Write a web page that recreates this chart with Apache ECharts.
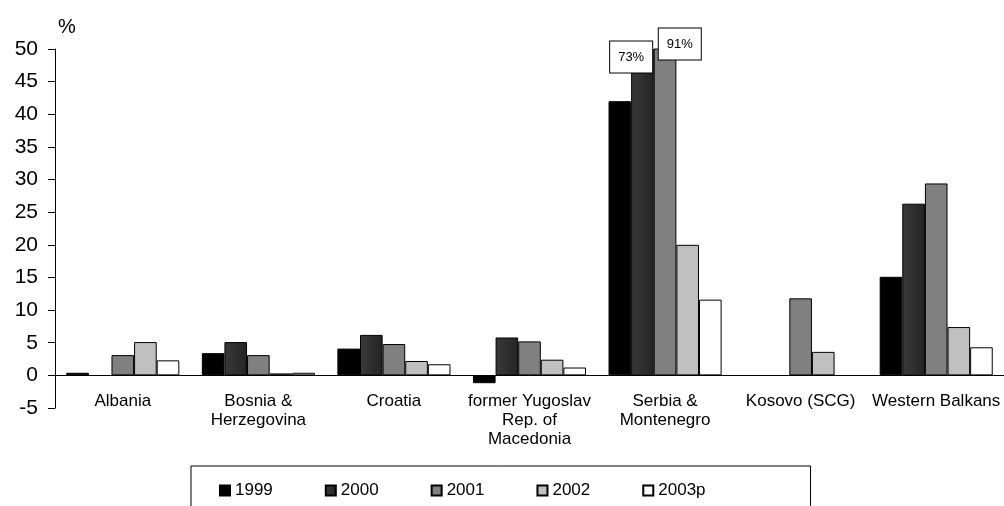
<!DOCTYPE html>
<html>
<head>
<meta charset="utf-8">
<script src="https://cdn.jsdelivr.net/npm/echarts@6/dist/echarts.min.js"></script>
<style>
  html, body { margin: 0; padding: 0; background: #fff; }
  #main { width: 1004px; height: 506px; }
</style>
</head>
<body>
<div id="main"></div>
<script>
// categories along the x axis
var countries = ['Albania', 'Bosnia &\nHerzegovina', 'Croatia', 'former Yugoslav\nRep. of\nMacedonia',
  'Serbia &\nMontenegro', 'Kosovo (SCG)', 'Western Balkans']
var years = ['1999', '2000', '2001', '2002', '2003p']

// values in % (Serbia 2000 and 2001 run off the top of the axis)
var v1999 = [0.4, 3.4, 4.1, -1.2, 42, null, 15.1]
var v2000 = [null, 5.1, 6.2, 5.8, 73, null, 26.3]
var v2001 = [3.1, 3.1, 4.8, 5.2, 91, 11.8, 29.4]
var v2002 = [5.1, 0.3, 2.2, 2.4, 20, 3.6, 7.4]
var v2003p = [2.3, 0.4, 1.7, 1.2, 11.6, null, 4.3]

var yTicks = { min: -5, max: 50, step: 5 }

var colors = [
  '#000000',
  { type: 'linear', x: 0, y: 0, x2: 1, y2: 0, colorStops: [{ offset: 0, color: '#3a3a3a' }, { offset: 1, color: '#242424' }] },
  '#808080',
  '#c0c0c0',
  '#ffffff'
]

var calloutBox = {
  show: true,
  formatter: '{c}%',
  color: '#000',
  fontSize: 13,
  fontFamily: 'Liberation Sans, Arial, sans-serif',
  backgroundColor: '#fff',
  borderColor: '#000',
  borderWidth: 1,
  padding: [9, 8, 9, 8],
  align: 'left',
  verticalAlign: 'top'
}

// mark the off-scale Serbia bars with their true value
function withCallout (arr, idx, pos) {
  return arr.map(function (v, i) {
    if (i !== idx) return v
    return { value: v, label: Object.assign({}, calloutBox, { position: pos }) }
  })
}

var seriesData = [
  v1999,
  withCallout(v2000, 4, [-21, -7]),
  withCallout(v2001, 4, [5, -20]),
  v2002,
  v2003p
]

var chart = echarts.init(document.getElementById('main'))
var font = 'Liberation Sans, Arial, sans-serif'

var option = {
  animation: false,
  textStyle: { fontFamily: font },
  grid: { left: 55, right: -2, top: 49, bottom: 98, containLabel: false },
  legend: {
    data: years,
    left: 191,
    top: 466,
    orient: 'horizontal',
    padding: [16, 105, 40, 28],
    borderColor: '#000',
    borderWidth: 1,
    itemWidth: 10,
    itemHeight: 10,
    itemGap: 52,
    icon: 'rect',
    textStyle: { fontSize: 17, color: '#000', fontFamily: font }
  },
  xAxis: {
    type: 'category',
    data: countries,
    axisLine: { onZero: true, lineStyle: { color: '#000', width: 1 } },
    axisTick: { show: false },
    axisLabel: { color: '#000', fontSize: 17, lineHeight: 19, margin: -16, interval: 0 },
    splitLine: { show: false }
  },
  yAxis: {
    type: 'value',
    min: yTicks.min,
    max: yTicks.max,
    interval: yTicks.step,
    name: '%',
    nameLocation: 'end',
    nameGap: 22,
    nameTextStyle: { color: '#000', fontSize: 20, align: 'left', verticalAlign: 'middle', padding: [0, 0, 0, 3] },
    axisLine: { show: true, lineStyle: { color: '#000', width: 1 } },
    axisTick: { show: true, inside: false, length: 7, lineStyle: { color: '#000' } },
    axisLabel: { color: '#000', fontSize: 21, margin: 17 },
    splitLine: { show: false }
  },
  series: years.map(function (y, i) {
    return {
      name: y,
      type: 'bar',
      data: seriesData[i],
      barGap: '0%',
      barCategoryGap: '16.6%',
      clip: true,
      itemStyle: { color: colors[i], borderColor: '#000', borderWidth: 1 }
    }
  })
}

chart.setOption(option)
</script>
</body>
</html>
